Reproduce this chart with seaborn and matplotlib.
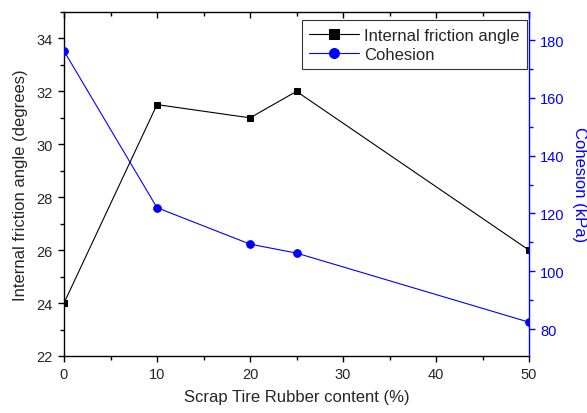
import matplotlib
matplotlib.use("Agg")
import matplotlib.pyplot as plt
import seaborn as sns
import pandas as pd
from matplotlib.ticker import MultipleLocator

sns.set_style("ticks")
plt.rcParams['font.family'] = ['Liberation Sans', 'DejaVu Sans']

rubber = [0, 10, 20, 25, 50]
friction = [24.0, 31.5, 31.0, 32.0, 26.0]
cohesion = [176.2, 122.0, 109.4, 106.3, 82.4]

df = pd.DataFrame({"rubber": rubber, "friction": friction, "cohesion": cohesion})

fig = plt.figure(figsize=(5.87, 4.14), dpi=100)
ax = fig.add_axes([64/587, 1-357/414, (529-64)/587, (357-13)/414])
ax2 = ax.twinx()

sns.lineplot(data=df, x="rubber", y="friction", ax=ax, color="black", marker="s",
             markersize=5, markeredgecolor="black", linewidth=0.8, label="Internal friction angle", legend=False)
sns.lineplot(data=df, x="rubber", y="cohesion", ax=ax2, color="blue", marker="o",
             markersize=5.5, markeredgecolor="blue", linewidth=0.8, label="Cohesion", legend=False)

ax.set_xlim(0, 50)
ax.set_ylim(22, 35)
ax2.set_ylim(70.7, 189.7)
ax.xaxis.set_major_locator(MultipleLocator(10))
ax.xaxis.set_minor_locator(MultipleLocator(5))
ax.yaxis.set_major_locator(MultipleLocator(2))
ax.yaxis.set_minor_locator(MultipleLocator(1))
ax2.yaxis.set_major_locator(MultipleLocator(20))
ax2.yaxis.set_minor_locator(MultipleLocator(10))

fs = 10.5
lfs = 12
ax.set_xlabel("Scrap Tire Rubber content (%)", fontsize=lfs, labelpad=6)
ax.set_ylabel("Internal friction angle (degrees)", fontsize=lfs, labelpad=6)
ax2.set_ylabel("Cohesion (kPa)", fontsize=lfs, color="blue", rotation=270, labelpad=16)

for s in ["left", "bottom", "top"]:
    ax.spines[s].set_visible(True)
    ax.spines[s].set_color("black")
    ax.spines[s].set_linewidth(1.0)
ax.spines["right"].set_visible(False)
ax2.spines["right"].set_color("blue")
ax2.spines["right"].set_linewidth(1.0)
ax2.spines["left"].set_visible(False)
ax2.spines["top"].set_visible(False)
ax2.spines["bottom"].set_visible(False)

ax.tick_params(axis="both", which="both", direction="out", labelsize=fs, color="black")
ax.tick_params(axis="x", which="both", top=True, labeltop=False)
ax.tick_params(axis="both", which="major", length=4.5, width=1)
ax.tick_params(axis="both", which="minor", length=3, width=1)
ax2.tick_params(axis="y", which="both", direction="out", colors="blue", labelsize=fs)
ax2.tick_params(axis="y", which="major", length=4.5, width=1)
ax2.tick_params(axis="y", which="minor", length=3, width=1)

for t in ax.xaxis.get_major_ticks() + ax.xaxis.get_minor_ticks():
    t.tick2line.set_marker(matplotlib.markers.TICKDOWN)

h1, l1 = ax.get_legend_handles_labels()
h2, l2 = ax2.get_legend_handles_labels()
leg = ax2.legend(h1 + h2, l1 + l2, loc="upper right", bbox_to_anchor=(0.996, 0.976),
                 fontsize=lfs, frameon=True, fancybox=False, edgecolor="black",
                 handlelength=3.0, borderpad=0.45, labelspacing=0.25, handletextpad=0.3,
                 borderaxespad=0, markerscale=1.3)
leg.get_frame().set_linewidth(0.8)

fig.savefig("out.png", dpi=100)
